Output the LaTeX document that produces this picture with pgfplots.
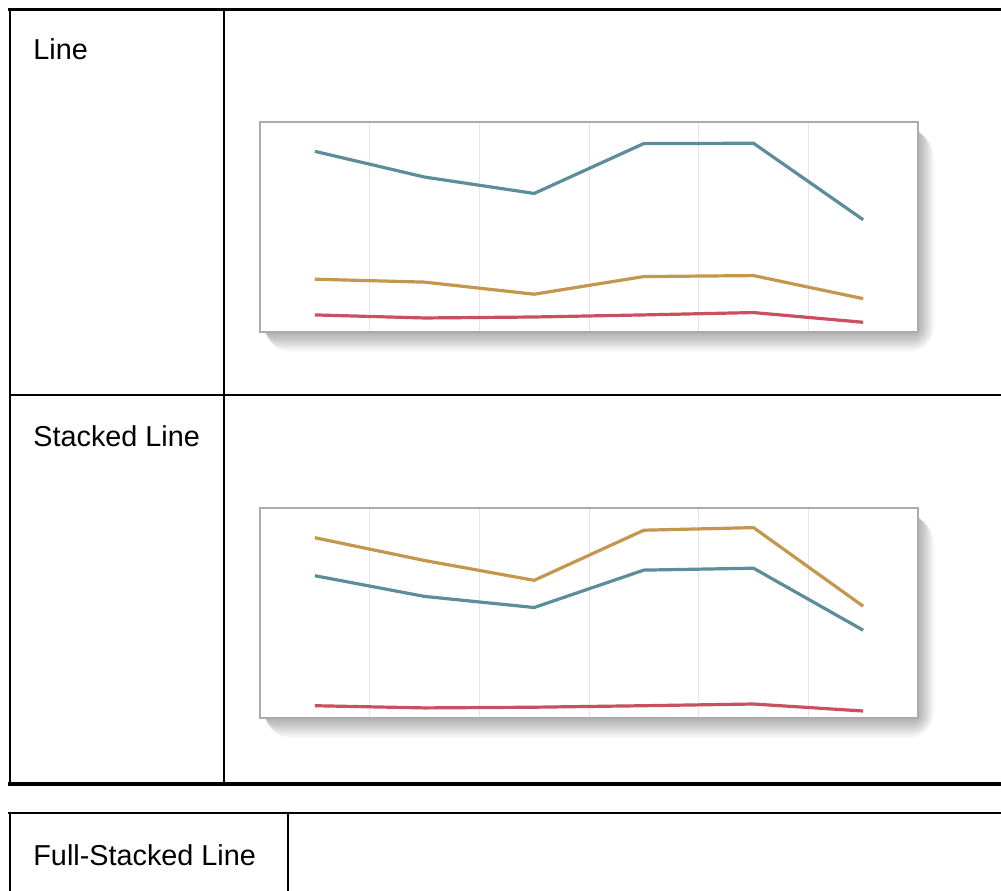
\documentclass[border=0pt]{standalone}
\usepackage{fontspec}
\setmainfont{Liberation Sans}
\usepackage{pgfplots}
\usepackage{pgfplotstable}
\pgfplotsset{compat=1.18}
\definecolor{cblue}{HTML}{5B8E98}
\definecolor{cgold}{HTML}{C4964E}
\definecolor{cred}{HTML}{C9505E}
\definecolor{frame}{HTML}{ABABAB}
\definecolor{gridc}{HTML}{E6E6E6}
\pgfplotstableread{
x red blue gold
0 12.3 130.0 38.0
1 10.1 111.5 35.9
2 10.8 99.7 27.2
3 12.3 135.6 39.9
4 14.0 135.8 40.6
5 7.0 80.8 24.0
}\data
\pgfplotsset{
  minichart/.style={
    scale only axis, width=329pt, height=105pt,
    anchor=north west,
    xmin=-0.5, xmax=5.5, ymin=0,
    xtick={0.5,1.5,2.5,3.5,4.5}, xticklabels={},
    ytick=\empty, major tick length=0pt,
    xmajorgrids, grid style={gridc, line width=0.5pt},
    axis line style={frame, line width=0.8pt},
    axis background/.style={fill=white},
    every axis plot/.append style={line width=1.6pt, line join=round, no marks},
  }
}
\begin{document}
\begin{tikzpicture}
\begin{scope}[x=0.5pt,y=-0.5pt]
  \useasboundingbox (0,0) rectangle (1001,890);
  \clip (0,0) rectangle (1001,890);
  \fill[white] (0,0) rectangle (1001,890);
  % soft shadows
  \foreach \k in {1,...,20}{
    \fill[black,opacity=0.018, rounded corners={\k*0.6pt}] ({262+\k*0.2},{126+\k*0.3}) rectangle ({914+\k*1.0},{328+\k*1.2});
    \fill[black,opacity=0.018, rounded corners={\k*0.6pt}] ({262+\k*0.2},{512+\k*0.3}) rectangle ({914+\k*1.0},{714+\k*1.2});
  }
  \coordinate (A1) at (260,122);
  \coordinate (A2) at (260,508);
  % table 1
  \draw[black, line width=1.25pt] (8,9.5) -- (1010,9.5);
  \draw[black, line width=1pt] (9.5,9) -- (9.5,784);
  \draw[black, line width=1pt] (224,9) -- (224,783);
  \draw[black, line width=1pt] (9,395) -- (1010,395);
  \draw[black, line width=2pt] (8,783.5) -- (1010,783.5);
  % table 2
  \draw[black, line width=1pt] (8,813) -- (1010,813);
  \draw[black, line width=1pt] (9.5,812) -- (9.5,900);
  \draw[black, line width=1pt] (288,812) -- (288,900);
  % labels
  \node[anchor=base west, inner sep=0pt, font=\fontsize{14.4pt}{17pt}\selectfont] at (33,59) {Line};
  \node[anchor=base west, inner sep=0pt, font=\fontsize{14.4pt}{17pt}\selectfont] at (33,446) {Stacked Line};
  \node[anchor=base west, inner sep=0pt, font=\fontsize{14.4pt}{17pt}\selectfont] at (33,865) {Full-Stacked Line};
\end{scope}
\begin{axis}[minichart, at={(A1)}, ymax=151.1]
  \addplot[cgold] table[x=x,y=gold]{\data};
  \addplot[cred] table[x=x,y=red]{\data};
  \addplot[cblue] table[x=x,y=blue]{\data};
\end{axis}
\begin{axis}[minichart, at={(A2)}, ymax=210, stack plots=y]
  \addplot[cred] table[x=x,y=red]{\data};
  \addplot[cblue] table[x=x,y=blue]{\data};
  \addplot[cgold] table[x=x,y=gold]{\data};
\end{axis}
\end{tikzpicture}
\end{document}
